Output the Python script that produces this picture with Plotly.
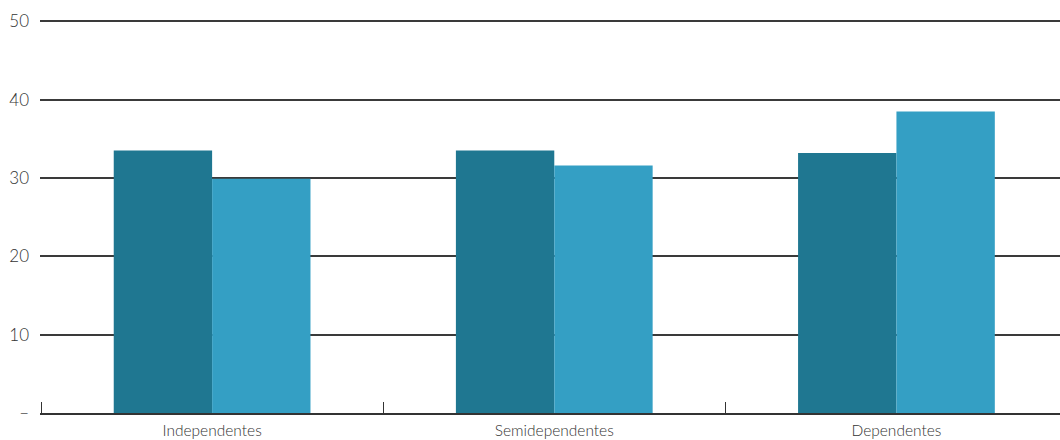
import plotly.graph_objects as go

categories = ["Independentes", "Semidependentes", "Dependentes"]
serie_a = [33.5, 33.5, 33.2]
serie_b = [29.9, 31.6, 38.5]

y_tick_vals = [0, 10, 20, 30, 40, 50]
y_tick_text = ["–", "10", "20", "30", "40", "50"]

dark_teal = "#1F7791"
light_teal = "#349FC4"
ink = "#333333"

fig = go.Figure()
fig.add_trace(go.Bar(x=categories, y=serie_a, marker=dict(color=dark_teal, line=dict(width=0)),
                     hoverinfo="x+y"))
fig.add_trace(go.Bar(x=categories, y=serie_b, marker=dict(color=light_teal, line=dict(width=0)),
                     hoverinfo="x+y"))

fig.update_layout(
    width=1060, height=440,
    margin=dict(l=40, r=0, t=19, b=27),
    paper_bgcolor="white", plot_bgcolor="white",
    barmode="group", bargap=0.425, bargroupgap=0,
    showlegend=False,
    font=dict(family="Lato, 'Open Sans', sans-serif", size=16, color=ink, weight=300),
)

fig.update_xaxes(
    type="category",
    range=[-0.503, 2.478],
    showgrid=False,
    showline=True, linecolor="#333", linewidth=1.5,
    ticks="inside", tickson="boundaries", ticklen=11, tickcolor="#333", tickwidth=1.4,
    tickfont=dict(size=15.5, color=ink),
    ticklabelstandoff=3,
    automargin=False,
    fixedrange=True,
)

# top of range sits a little above 50 so that gridline is kept
fig.update_yaxes(
    range=[0, 50.3],
    tickvals=y_tick_vals, ticktext=y_tick_text,
    showgrid=True, gridcolor="#3a3a3a", gridwidth=1.5,
    zeroline=False, showline=False,
    ticks="", ticklabelstandoff=10,
    tickfont=dict(size=17, color=ink),
    automargin=False,
    fixedrange=True,
)

fig.write_html("out.html")
